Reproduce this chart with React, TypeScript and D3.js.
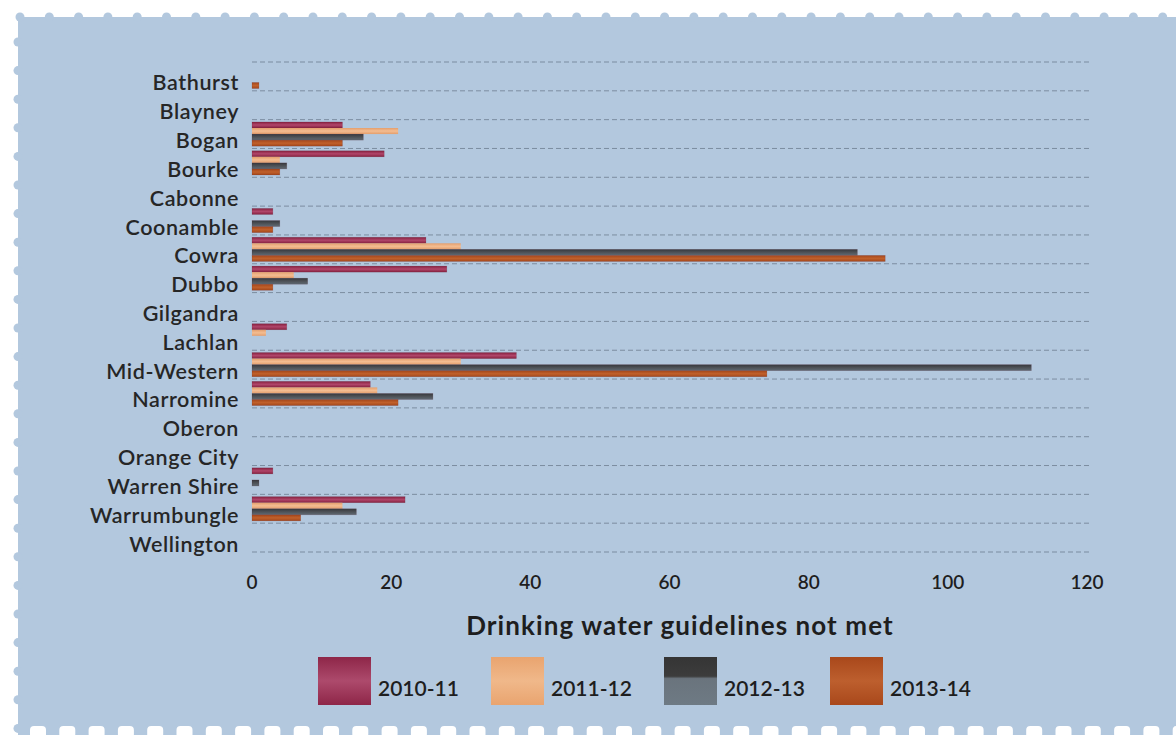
import React from "react";
import * as d3 from "d3";

const categories = [
  "Bathurst", "Blayney", "Bogan", "Bourke", "Cabonne", "Coonamble", "Cowra", "Dubbo",
  "Gilgandra", "Lachlan", "Mid-Western", "Narromine", "Oberon", "Orange City",
  "Warren Shire", "Warrumbungle", "Wellington",
];
const seriesNames = ["2010-11", "2011-12", "2012-13", "2013-14"];
const v2010_11 = [0, 0, 13, 19, 0, 3, 25, 28, 0, 5, 38, 17, 0, 0, 3, 22, 0];
const v2011_12 = [0, 0, 21, 4, 0, 0, 30, 6, 0, 2, 30, 18, 0, 0, 0, 13, 0];
const v2012_13 = [0, 0, 16, 5, 0, 4, 87, 8, 0, 0, 112, 26, 0, 0, 1, 15, 0];
const v2013_14 = [1, 0, 13, 4, 0, 3, 91, 3, 0, 0, 74, 21, 0, 0, 0, 7, 0];
const xTicks = [0, 20, 40, 60, 80, 100, 120];
const axisTitle = "Drinking water guidelines not met";

const seriesValues = [v2010_11, v2011_12, v2012_13, v2013_14];

const gradStops = [
  ["#86203f", "#b0466a", "#86203f"],
  ["#e49e6c", "#f3bd92", "#e49e6c"],
  ["#36383d", "#4e5257", "#5f6a74"],
  ["#a4461a", "#c0602b", "#a4461a"],
];
const legendStops = [
  ["#8e2648", "#ad4a6c", "#8e2648"],
  ["#e9a46f", "#f0b88a", "#e9a46f"],
  ["#353535", "#3c3c3c", "#6e7a84"],
  ["#a9481b", "#bd5f2e", "#a9481b"],
];

const W = 1176;
const H = 735;
const FONT = "Lato, 'Open Sans', sans-serif";

export default function App() {
  const x = d3.scaleLinear().domain([0, 120]).range([252, 1087]);
  const y = d3
    .scaleBand<string>()
    .domain(categories)
    .range([62, 552])
    .paddingInner(0.16)
    .paddingOuter(0.08);
  const step = y.step();
  const ySub = d3
    .scaleBand<string>()
    .domain(seriesNames)
    .range([0, y.bandwidth()]);

  const gridYs = d3.range(categories.length + 1).map((i) => 62 + i * step);

  const topBumps = d3.range(40).map((i) => 20 + i * 29.3);
  const leftBumps = d3.range(25).map((i) => 42 + i * 28.6);
  const bottomBumps = d3.range(40).map((i) => 38 + i * 29.3);

  const legendX = [318, 491, 664, 830];

  return (
    <svg
      width={W}
      height={H}
      style={{ position: "absolute", left: 0, top: 0, background: "#ffffff" }}
      fontFamily={FONT}
    >
      <defs>
        {gradStops.map((s, i) => (
          <linearGradient key={i} id={`bar${i}`} x1="0" y1="0" x2="0" y2="1">
            <stop offset="0%" stopColor={s[0]} />
            <stop offset="50%" stopColor={s[1]} />
            <stop offset="100%" stopColor={s[2]} />
          </linearGradient>
        ))}
        {legendStops.map((s, i) => (
          <linearGradient key={i} id={`leg${i}`} x1="0" y1="0" x2="0" y2="1">
            <stop offset="0%" stopColor={s[0]} />
            <stop offset={i === 2 ? "40%" : "50%"} stopColor={s[1]} />
            <stop offset={i === 2 ? "45%" : "50%"} stopColor={i === 2 ? "#6a747d" : s[1]} />
            <stop offset="100%" stopColor={s[2]} />
          </linearGradient>
        ))}
      </defs>

      <rect x={18} y={17} width={W - 18} height={707} fill="#b3c8de" />
      {topBumps.map((bx, i) => (
        <circle key={`t${i}`} cx={bx} cy={17} r={4.5} fill="#b3c8de" />
      ))}
      {leftBumps.map((by, i) => (
        <circle key={`l${i}`} cx={18} cy={by} r={4.5} fill="#b3c8de" />
      ))}
      <rect x={18} y={724} width={W - 18} height={11} fill="#b3c8de" />
      {bottomBumps.map((bx, i) => (
        <rect key={`b${i}`} x={bx - 8} y={726} width={16} height={12} rx={4} fill="#ffffff" />
      ))}

      {gridYs.map((gy, i) => (
        <line
          key={`g${i}`}
          x1={252}
          x2={1090}
          y1={gy}
          y2={gy}
          stroke="#6f7f92"
          strokeWidth={1}
          strokeDasharray="5,3"
          opacity={0.8}
        />
      ))}

      {categories.map((c, ci) =>
        seriesValues.map((vals, si) => {
          const v = vals[ci];
          if (!v) return null;
          const by = (y(c) as number) + (ySub(seriesNames[si]) as number);
          return (
            <rect
              key={`${ci}-${si}`}
              x={x(0)}
              y={by}
              width={x(v) - x(0)}
              height={ySub.bandwidth()}
              fill={`url(#bar${si})`}
              stroke={si === 1 ? "none" : "#5a2030"}
              strokeOpacity={si === 1 ? 0 : 0.25}
              strokeWidth={0.6}
            />
          );
        })
      )}

      {categories.map((c) => (
        <text
          key={c}
          x={239}
          y={(y(c) as number) + y.bandwidth() / 2 + 6}
          textAnchor="end"
          dominantBaseline="central"
          fontSize={21.5}
          fontWeight={600}
          letterSpacing={0.6}
          fill="#262626"
        >
          {c}
        </text>
      ))}

      {xTicks.map((t) => (
        <text
          key={t}
          x={x(t)}
          y={581}
          textAnchor="middle"
          dominantBaseline="central"
          fontSize={19}
          fontWeight={600}
          fill="#1e1e1e"
        >
          {t}
        </text>
      ))}

      <text
        x={680}
        y={625}
        textAnchor="middle"
        dominantBaseline="central"
        fontSize={26}
        fontWeight={700}
        letterSpacing={1.1}
        fill="#1e1e1e"
      >
        {axisTitle}
      </text>

      {seriesNames.map((s, i) => (
        <g key={s}>
          <rect x={legendX[i]} y={657} width={53} height={48} fill={`url(#leg${i})`} />
          <text
            x={legendX[i] + 60}
            y={687}
            dominantBaseline="central"
            fontSize={21}
            fontWeight={600}
            fill="#1e1e1e"
          >
            {s}
          </text>
        </g>
      ))}
    </svg>
  );
}
